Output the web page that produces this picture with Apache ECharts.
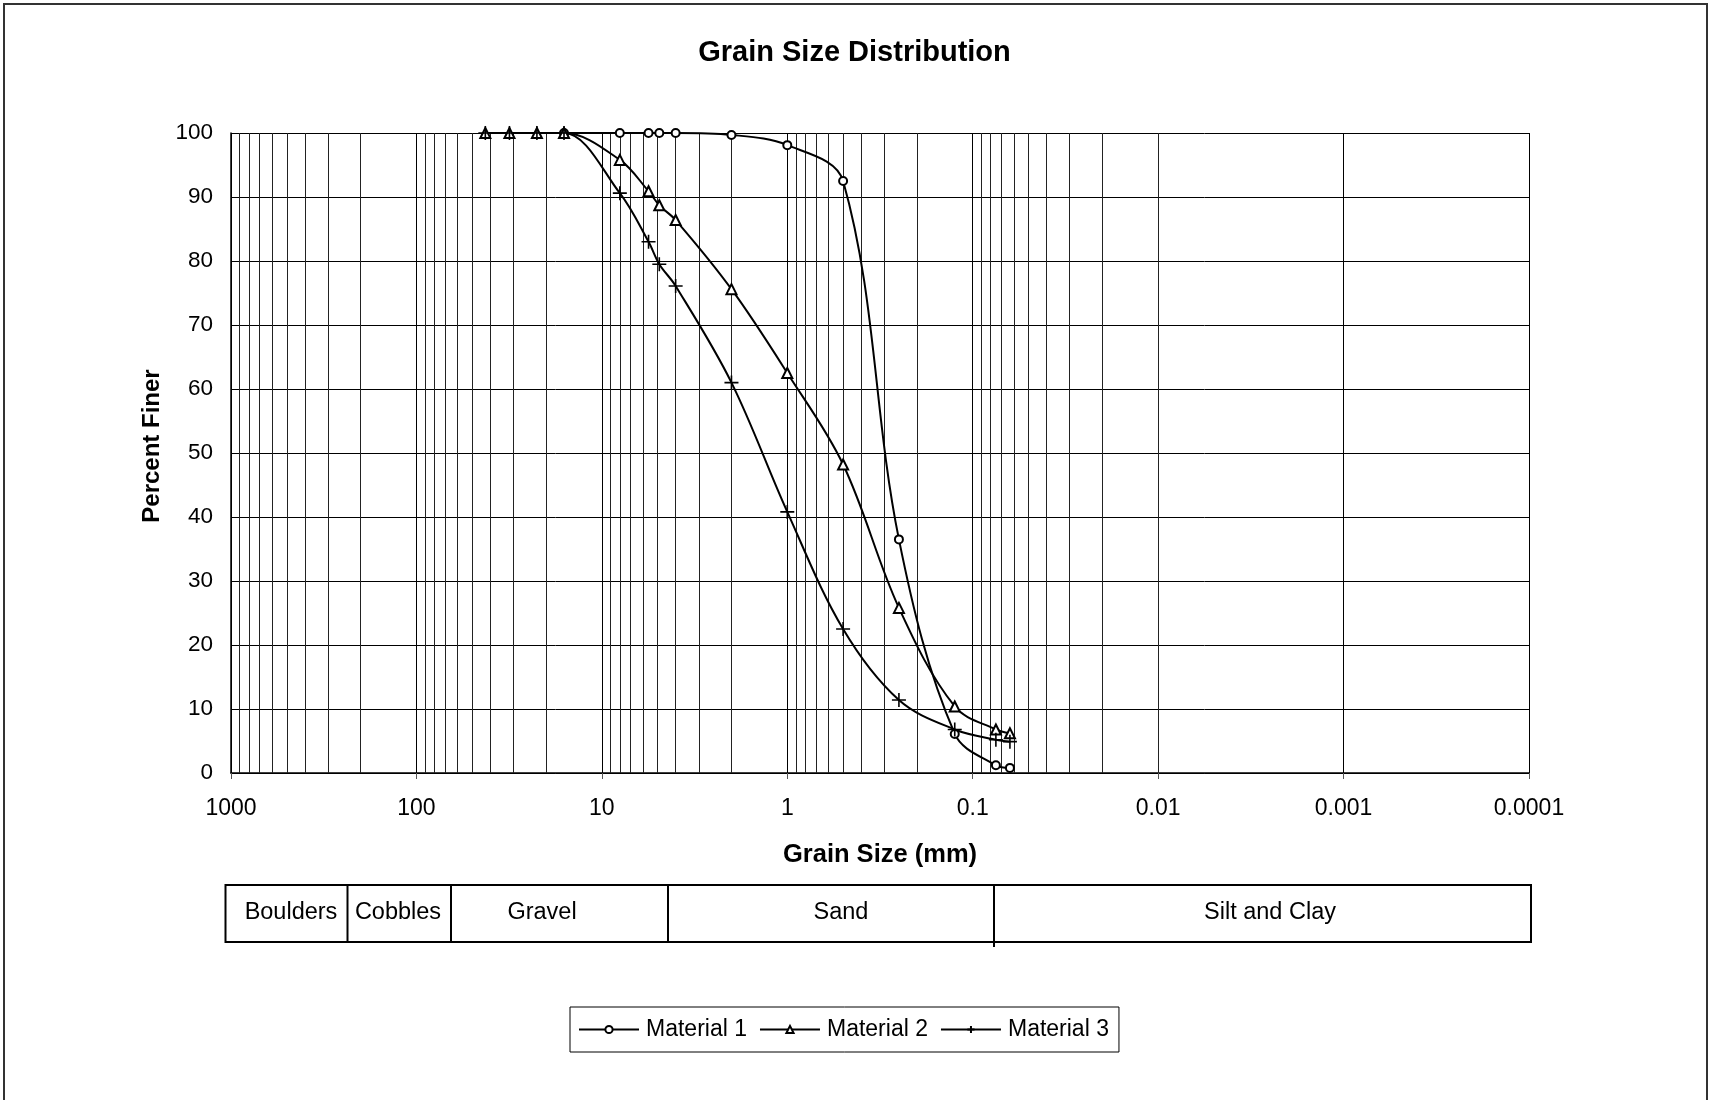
<!DOCTYPE html>
<html>
<head>
<meta charset="utf-8">
<title>Grain Size Distribution</title>
<script src="https://cdn.jsdelivr.net/npm/echarts@6/dist/echarts.min.js"></script>
<style>
  html, body { margin: 0; padding: 0; background: #fff; }
  #chart { width: 1709px; height: 1100px; }
</style>
</head>
<body>
<div id="chart"></div>
<script>
// Sieve openings (mm) and percent passing for each material
const sieveSizes = [42.5, 31.5, 22.4, 16, 8, 5.6, 4.9, 4, 2, 1, 0.5, 0.25, 0.125, 0.075, 0.063];
const material1 = ['-', '-', '-', 100, 100, 100, 100, 100, 99.7, 98.1, 92.5, 36.5, 6.1, 1.2, 0.8];
const material2 = [100, 100, 100, 100, 95.8, 90.9, 88.7, 86.4, 75.6, 62.5, 48.2, 25.8, 10.4, 6.8, 6.2];
const material3 = [100, 100, 100, 100, 90.6, 83.0, 79.5, 76.1, 61.0, 40.8, 22.5, 11.4, 6.8, 5.2, 4.9];
const seriesNames = ['Material 1', 'Material 2', 'Material 3'];

// Axis labelling
const decades = [1000, 100, 10, 1, 0.1, 0.01, 0.001, 0.0001];
const decadeLabels = ['1000', '100', '10', '1', '0.1', '0.01', '0.001', '0.0001'];
const minorMultipliers = [2, 3, 4, 5, 6, 7, 8, 9];
const yTicks = [0, 10, 20, 30, 40, 50, 60, 70, 80, 90, 100];

// Soil classification strip
const soilClasses = ['Boulders', 'Cobbles', 'Gravel', 'Sand', 'Silt and Clay'];

const FONT = "'Liberation Sans', Arial, Helvetica, sans-serif";

// intermediate log grid lines (2..9 within every decade)
const minorLines = [];
decades.slice(1).forEach(function (d) {
  minorMultipliers.forEach(function (m) {
    minorLines.push({ xAxis: +(d * m).toPrecision(6) });
  });
});

function pairs(values) {
  return sieveSizes.map(function (s, i) { return [s, values[i]]; });
}

const crossPath = 'path://M0,5L10,5M5,0L5,10';

function materialSeries(name, values, symbol, size) {
  return {
    name: name,
    type: 'line',
    data: pairs(values),
    smooth: 0.35,
    symbol: symbol,
    symbolSize: size,
    showAllSymbol: true,
    z: 5,
    color: '#000',
    lineStyle: { color: '#000', width: 2 },
    itemStyle: { color: '#000', borderColor: '#000', borderWidth: 1.6 },
    emphasis: { disabled: true },
    animation: false
  };
}

const chart = echarts.init(document.getElementById('chart'), null, { renderer: 'canvas' });

const option = {
  backgroundColor: '#fff',
  animation: false,
  title: {
    text: 'Grain Size Distribution',
    left: 'center',
    top: 38,
    padding: [0, 0, 0, 7],
    textStyle: { fontFamily: FONT, fontSize: 29, fontWeight: 'bold', color: '#000' }
  },
  grid: { left: 231, right: 180, top: 133, bottom: 327, containLabel: false },
  xAxis: {
    type: 'log',
    logBase: 10,
    min: 0.0001,
    max: 1000,
    inverse: true,
    name: 'Grain Size (mm)',
    nameLocation: 'middle',
    nameGap: 69,
    nameTextStyle: { fontFamily: FONT, fontSize: 25.5, fontWeight: 'bold', color: '#000' },
    axisLine: { show: true, lineStyle: { color: '#000', width: 1.5 } },
    axisTick: { show: true, length: 6, lineStyle: { color: '#555', width: 1 } },
    axisLabel: {
      fontFamily: FONT, fontSize: 23, color: '#000', margin: 24,
      formatter: function (v) {
        const i = decades.findIndex(function (d) { return Math.abs(Math.log10(d) - Math.log10(v)) < 1e-6; });
        return i >= 0 ? decadeLabels[i] : '';
      }
    },
    splitLine: { show: true, lineStyle: { color: '#000', width: 1 } },
    minorTick: { show: false },
    minorSplitLine: { show: false }
  },
  yAxis: {
    type: 'value',
    min: yTicks[0],
    max: yTicks[yTicks.length - 1],
    interval: 10,
    name: 'Percent Finer',
    nameLocation: 'middle',
    nameGap: 63,
    nameTextStyle: { fontFamily: FONT, fontSize: 24, fontWeight: 'bold', color: '#000', padding: [0, 0, 0, 14] },
    axisLine: { show: true, lineStyle: { color: '#000', width: 1.5 } },
    axisTick: { show: false },
    axisLabel: { fontFamily: FONT, fontSize: 22.5, color: '#000', margin: 18 },
    splitLine: { show: true, lineStyle: { color: '#000', width: 1 } }
  },
  legend: {
    data: seriesNames,
    left: 570,
    top: 1007,
    orient: 'horizontal',
    borderColor: '#000',
    borderWidth: 1,
    padding: [11, 10, 11, 8],
    itemGap: 12,
    itemWidth: 60,
    itemHeight: 9,
    selectedMode: false,
    textStyle: { fontFamily: FONT, fontSize: 23, color: '#000', padding: [0, 0, 0, 2] }
  },
  series: [
    {
      name: 'log grid',
      type: 'line',
      data: [],
      z: 1,
      silent: true,
      markLine: {
        silent: true,
        symbol: ['none', 'none'],
        label: { show: false },
        lineStyle: { color: '#222', width: 1, type: 'solid' },
        emphasis: { disabled: true },
        animation: false,
        data: minorLines
      }
    },
    materialSeries(seriesNames[0], material1, 'emptyCircle', 8),
    materialSeries(seriesNames[1], material2, 'emptyTriangle', 10),
    materialSeries(seriesNames[2], material3, crossPath, 14)
  ],
  graphic: [
    // outer chart frame
    { type: 'rect', silent: true, shape: { x: 4, y: 4, width: 1703, height: 1104 },
      style: { fill: 'none', stroke: '#333', lineWidth: 2 } },
    // classification strip
    { type: 'rect', silent: true, shape: { x: 225.5, y: 885, width: 1305.5, height: 57 },
      style: { fill: 'none', stroke: '#000', lineWidth: 2 } },
    { type: 'line', silent: true, shape: { x1: 347.5, y1: 885, x2: 347.5, y2: 942 }, style: { stroke: '#000', lineWidth: 2 } },
    { type: 'line', silent: true, shape: { x1: 451, y1: 885, x2: 451, y2: 942 }, style: { stroke: '#000', lineWidth: 2 } },
    { type: 'line', silent: true, shape: { x1: 668, y1: 885, x2: 668, y2: 942 }, style: { stroke: '#000', lineWidth: 2 } },
    { type: 'line', silent: true, shape: { x1: 994, y1: 885, x2: 994, y2: 947 }, style: { stroke: '#000', lineWidth: 2 } },
    { type: 'text', silent: true, x: 291, y: 913, style: { text: soilClasses[0], fontFamily: FONT, fontSize: 23.5, fill: '#000', align: 'center', verticalAlign: 'middle' } },
    { type: 'text', silent: true, x: 398, y: 913, style: { text: soilClasses[1], fontFamily: FONT, fontSize: 23.5, fill: '#000', align: 'center', verticalAlign: 'middle' } },
    { type: 'text', silent: true, x: 542, y: 913, style: { text: soilClasses[2], fontFamily: FONT, fontSize: 23.5, fill: '#000', align: 'center', verticalAlign: 'middle' } },
    { type: 'text', silent: true, x: 841, y: 913, style: { text: soilClasses[3], fontFamily: FONT, fontSize: 23.5, fill: '#000', align: 'center', verticalAlign: 'middle' } },
    { type: 'text', silent: true, x: 1270, y: 913, style: { text: soilClasses[4], fontFamily: FONT, fontSize: 23.5, fill: '#000', align: 'center', verticalAlign: 'middle' } }
  ]
};

chart.setOption(option);
</script>
</body>
</html>
